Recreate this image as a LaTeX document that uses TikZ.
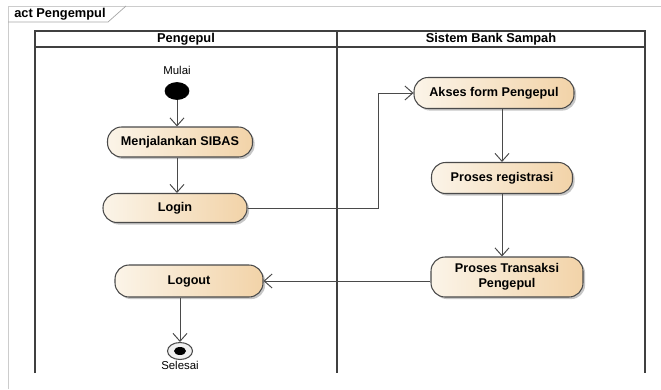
\documentclass[tikz,border=0pt]{standalone}
\usepackage{fontspec}
\setmainfont{Liberation Sans}
\usetikzlibrary{positioning}
\usetikzlibrary{arrows.meta}
\usetikzlibrary{shadows}
\usetikzlibrary{shapes.geometric}

\definecolor{boxleft}{HTML}{FBF4E8}
\definecolor{boxright}{HTML}{F2D3A8}
\definecolor{lineg}{HTML}{4A4A4A}

\tikzset{
  action/.style={draw=lineg, line width=0.6pt, rounded corners=8pt,
    left color=boxleft, right color=boxright,
    drop shadow={shadow xshift=1.2pt, shadow yshift=-1.2pt, opacity=0.45},
    font=\bfseries\fontsize{7.2}{8.6}\selectfont, align=center, inner sep=0pt},
  flow/.style={draw=lineg, line width=0.55pt, -{Straight Barb[length=4.5pt,width=8pt]}},
  lane/.style={draw=black!75, line width=0.8pt},
}

\begin{document}
\begin{tikzpicture}[x=0.02cm, y=-0.02cm]
      \useasboundingbox (0,0) rectangle (661,389);
      % frame
      \draw[black!20] (8,389) -- (8,6) -- (661,6);
      \draw[black!35] (8,22) -- (108,22) -- (126,6);
      \node[anchor=west, inner sep=0pt, font=\bfseries\fontsize{7.3}{8.6}\selectfont] (title) at (14,14) {act Pengempul};
      % swimlanes
      \draw[lane] (35,373) -- (35,31) -- (645,31) -- (645,373);
      \draw[lane] (35,47) -- (645,47);
      \draw[lane] (337,31) -- (337,373);
      \node[font=\bfseries\fontsize{7.3}{8.6}\selectfont] (lane1) at (186,39) {Pengepul};
      \node[font=\bfseries\fontsize{7.3}{8.6}\selectfont] (lane2) at (491,39) {Sistem Bank Sampah};
      % start / stop
      \node[font=\fontsize{6.5}{8}\selectfont] (mulai) at (177,70) {Mulai};
      \node[ellipse, fill=black, draw=black, minimum width=0.48cm, minimum height=0.34cm, inner sep=0pt] (start) at (177,91) {};
      \node[ellipse, fill=black!6, draw=lineg, line width=0.6pt, minimum width=0.5cm, minimum height=0.34cm, inner sep=0pt] (stop) at (180,351) {};
      \node[ellipse, fill=black, minimum width=0.24cm, minimum height=0.16cm, inner sep=0pt] (stopdot) at (stop) {};
      \node[font=\fontsize{6.5}{8}\selectfont] (selesai) at (180,365) {Selesai};
      % actions
      \node[action, minimum width=2.9cm, minimum height=0.6cm] (menu) at (180,142) {Menjalankan SIBAS};
      \node[action, minimum width=2.88cm, minimum height=0.58cm] (login) at (175,208) {Login};
      \node[action, minimum width=3.2cm, minimum height=0.62cm] (akses) at (494,93) {Akses form Pengepul};
      \node[action, minimum width=2.82cm, minimum height=0.62cm] (reg) at (502,178) {Proses registrasi};
      \node[action, minimum width=3.04cm, minimum height=0.8cm] (trans) at (507,277) {Proses Transaksi\\Pengepul};
      \node[action, minimum width=2.96cm, minimum height=0.64cm] (logout) at (189,281) {Logout};
      % flows
      \draw[flow] (start) -- (menu.north -| start);
      \draw[flow] (menu.south -| start) -- (login.north -| start);
      \draw[flow] (login.east) -- ++(131,0) |- (akses.west);
      \draw[flow] (akses.south -| reg) -- (reg.north);
      \draw[flow] (reg.south) -- (reg.south |- trans.north);
      \draw[flow] (trans.west |- logout.east) -- (logout.east);
      \draw[flow] (logout.south -| stop) -- (stop.north);
    \end{tikzpicture}
\end{document}
